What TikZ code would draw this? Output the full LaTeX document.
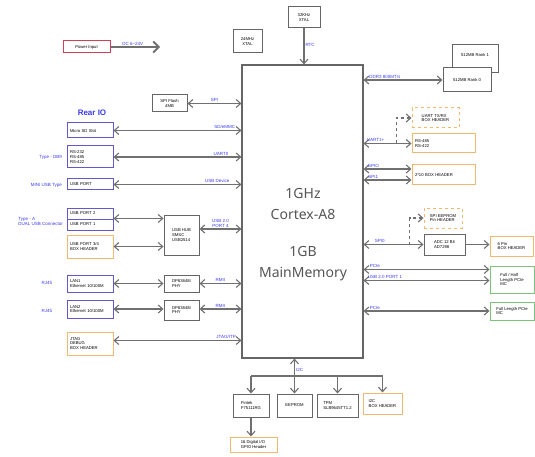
\documentclass[tikz,border=0pt]{standalone}
\usepackage{fontspec}
\setmainfont{Liberation Sans}
\newfontfamily\cpufont{Noto Sans}
\usetikzlibrary{arrows.meta,calc,positioning}

\definecolor{boxgray}{HTML}{666666}
\definecolor{linegray}{HTML}{707070}
\definecolor{rearblue}{HTML}{6458D0}
\definecolor{hdrorange}{HTML}{F0B870}
\definecolor{pcigreen}{HTML}{7CC47C}
\definecolor{pwrred}{HTML}{D0405A}
\definecolor{lblblue}{HTML}{3A3AF0}
\definecolor{cputext}{HTML}{555555}

\tikzset{
  tiny/.style={font=\fontsize{4.2}{4.8}\selectfont},
  sz/.style 2 args={minimum width=#1pt, minimum height=#2pt},
  blk/.style={draw=boxgray, line width=1pt, fill=white, tiny, align=center, inner sep=1pt},
  rio/.style={blk, draw=rearblue, align=left, text width=40pt, inner xsep=3pt},
  hdr/.style={blk, draw=hdrorange, align=left},
  lhdr/.style={hdr, text width=40pt, inner xsep=3pt},
  rhdr/.style={hdr, inner xsep=3pt},
  pci/.style={blk, draw=pcigreen, align=left},
  cpubox/.style={draw=boxgray, line width=1.1pt},
  cputxt/.style={text=cputext, font=\cpufont\fontsize{14}{21}\selectfont, align=center},
  lbl/.style={text=lblblue, font=\fontsize{4.5}{5}\selectfont, align=center, inner sep=1pt},
  tip/.tip={Straight Barb[length=4.5pt,width=8pt]},
  dbl/.style={draw=linegray, line width=1.1pt, tip-tip},
  one/.style={draw=linegray, line width=1.1pt, -tip},
  bus/.style={draw=linegray, line width=1.1pt}
}

\begin{document}
\begin{tikzpicture}[x=1pt, y=-1pt]
\useasboundingbox (0,0) rectangle (535,457);

  % processor
  \node[cpubox, minimum width=121pt, minimum height=293pt] (cpu) at (302.5,211.5) {};
  \node[cputxt] (cpulbl) at (303,234.5) {1GHz\\Cortex-A8\\[16pt]1GB\\MainMemory};

  % top row
  \node[blk, draw=pwrred, sz={47}{12}] (pwr) at (86.5,47) {Power Input};
  \coordinate (pwrend) at (160,47);
  \node[blk, sz={29}{23}] (xtalA) at (247.5,41.5) {24MHz\\XTAL};
  \node[blk, sz={32}{21}] (xtalB) at (304,17.5) {32KHz\\XTAL};
  \node[blk, sz={46}{28}] (rankA) at (475,59) {\raisebox{8pt}{512MB Rank 1}};
  \node[blk, sz={48}{24}] (rankB) at (467,80) {512MB Rank 0};

  % rear IO
  \node[text=lblblue, font=\bfseries\fontsize{8}{9}\selectfont] (rear) at (92,113) {Rear IO};
  \node[blk, sz={35}{17}] (flash) at (169.5,103.5) {SPI Flash\\4MB};
  \node[rio, minimum height=15pt] (sd) at (90,130.5) {Micro SD Slot};
  \node[rio, minimum height=22pt] (rs) at (90,157) {RS-232\\RS-485\\RS-422};
  \node[rio, minimum height=11pt] (usb) at (90,184.5) {USB PORT};
  \node[rio, minimum height=11pt] (usbB) at (90,213.5) {USB PORT 2};
  \node[rio, minimum height=11pt] (usbA) at (90,224.5) {USB PORT 1};
  \node[lhdr, minimum height=23pt] (usbC) at (90,246.5) {USB PORT 3/4\\BOX HEADER};
  \node[blk, sz={35}{40}, align=left] (hub) at (181.5,235) {USB HUB\\SMSC\\USB2514};
  \node[rio, minimum height=17pt] (lanA) at (90,283.5) {LAN1\\Ethernet 10/100M};
  \node[blk, sz={35}{17}, align=left] (phyA) at (181.5,283.5) {DP83848I\\PHY};
  \node[rio, minimum height=18pt] (lanB) at (90,309) {LAN2\\Ethernet 10/100M};
  \node[blk, sz={35}{20}, align=left] (phyB) at (181.5,310) {DP83848I\\PHY};
  \node[lhdr, minimum height=23pt] (jtag) at (90,343.5) {JTAG\\DEBUG\\BOX HEADER};

  \node[lbl, anchor=east] (tDB) at (63,157) {Type - DB9};
  \node[lbl, anchor=east] (tMini) at (63,185) {MINI USB Type};
  \node[lbl, anchor=east, align=left] (tDual) at (64,221) {Type - A\\DUAL USB Connector};
  \node[lbl] (tRJA) at (47,283) {RJ45};
  \node[lbl] (tRJB) at (47,311) {RJ45};

  % right side
  \node[hdr, dashed, sz={47}{20}] (uartH) at (435.5,118) {UART TX/RX\\BOX HEADER};
  \node[rhdr, text width=57pt, minimum height=19pt] (rsB) at (443.5,143.5) {RS-485\\RS-422};
  \node[rhdr, text width=57pt, minimum height=20pt] (pinA) at (443.5,175) {2*10 BOX HEADER};
  \node[hdr, dashed, sz={38}{20}] (eep) at (443,218) {SPI EEPROM\\Pin HEADER};
  \node[blk, sz={41}{21}, align=left] (adc) at (444.5,244.5) {ADC 12 Bit\\AD7298};
  \node[hdr, sz={43}{20}] (pinB) at (511.5,246) {6 Pin\\BOX HEADER};
  \node[pci, sz={44}{27}] (pciA) at (512,279.5) {Full / Half\\Length PCIe\\MC};
  \node[pci, sz={44}{18}] (pciB) at (512,311) {Full Length PCIe\\MC};

  % bottom row
  \node[blk, sz={36}{23}, align=left] (fin) at (251,405.5) {Fintek\\F75111RG};
  \node[blk, sz={35}{23}] (eeprom) at (294.5,405.5) {EEPROM};
  \node[blk, sz={41}{23}, align=left] (tpm) at (337.5,405.5) {TPM\\SLB9645TT1.2};
  \node[hdr, sz={39}{21}] (i2cH) at (382.5,403.5) {I2C\\BOX HEADER};
  \node[hdr, sz={47}{15}] (gpioH) at (253.5,444.5) {16 Digital I/O\\GPIO Header};

  % connectors, top
  \draw[draw=linegray, line width=1.8pt, -{Straight Barb[length=5.5pt,width=11pt]}] (pwr.east) -- node[lbl, above, pos=0.45] {DC 6\textasciitilde24V} (pwrend);
  \draw[one] (xtalB.south) -- node[lbl, right, pos=0.45] {RTC} (xtalB.south |- cpu.north);
  \draw[dbl] (rankB.west -| cpu.east) -- node[lbl, above, pos=0.27] {DDR3 800MT/s} (rankB.west);

  % connectors, left
  \draw[dbl] (flash.east) -- node[lbl, above, pos=0.5] {SPI} (flash.east -| cpu.west);
  \draw[dbl] (sd.east) -- node[lbl, above, pos=0.87] {SD/eMMC} (sd.east -| cpu.west);
  \draw[dbl] (rs.east) -- node[lbl, above, pos=0.84] {UART0} (rs.east -| cpu.west);
  \draw[dbl] (usb.east) -- node[lbl, above, pos=0.81] {USB Device} (usb.east -| cpu.west);
  \draw[dbl] (usbA.north east) -- (usbA.north east -| hub.west);
  \draw[dbl] (usbC.east) -- (usbC.east -| hub.west);
  \draw[dbl] ([yshift=6pt]hub.east) -- node[lbl, above, pos=0.5] {USB 2.0\\PORT 4} ([yshift=6pt]hub.east -| cpu.west);
  \draw[dbl] (lanA.east) -- (phyA.west);
  \draw[dbl] (phyA.east) -- node[lbl, above, pos=0.5] {RMII} (phyA.east -| cpu.west);
  \draw[dbl] (lanB.east) -- (lanB.east -| phyB.west);
  \draw[dbl] (lanB.east -| phyB.east) -- node[lbl, above, pos=0.5] {RMII} (lanB.east -| cpu.west);
  \draw[dbl] ([yshift=3pt]jtag.east) -- node[lbl, above, pos=0.88] {JTAG/ITP} ([yshift=3pt]jtag.east -| cpu.west);

  % connectors, right
  \coordinate (gpio) at ([yshift=6pt]pinA.west);
  \coordinate (spiA) at ([yshift=-5pt]pinA.west);
  \coordinate (pcieA) at ([yshift=10pt]pciA.west);
  \coordinate (usbP) at ([yshift=-1pt]pciA.west);
  \draw[dbl] (rsB.west -| cpu.east) -- node[lbl, above, pos=0.25] {UART1+} (rsB.west);
  \draw[one, dashed] ($(rsB.west -| cpu.east)+(33,0)$) |- (uartH.west);
  \draw[dbl] (gpio -| cpu.east) -- node[lbl, above, pos=0.2] {GPIO} (gpio);
  \draw[dbl] (spiA -| cpu.east) -- node[lbl, above, pos=0.2] {SPI1} (spiA);
  \draw[dbl] (adc.west -| cpu.east) -- node[lbl, above, pos=0.27] {SPI0} (adc.west);
  \draw[one, dashed] ($(adc.west -| cpu.east)+(46,0)$) |- (eep.west);
  \draw[one] (adc.east) -- (adc.east -| pinB.west);
  \draw[dbl] (pcieA -| cpu.east) -- node[lbl, above, pos=0.09] {PCIe} (pcieA);
  \draw[dbl] (usbP -| cpu.east) -- node[lbl, above, pos=0.17] {USB 2.0 PORT 1} (usbP);
  \draw[dbl] (pciB.west -| cpu.east) -- node[lbl, above, pos=0.09] {PCIe} (pciB.west);

  % I2C bus
  \coordinate (i2c) at (0,376);
  \draw[bus] (fin.north |- i2c) -- (i2cH.north |- i2c);
  \foreach \n in {fin,tpm,i2cH}
    \draw[one] (\n.north |- i2c) -- (\n.north);
  \draw[dbl] (eeprom.north |- cpu.south) -- node[lbl, right, pos=0.33] {I2C} (eeprom.north);
  \draw[one] (fin.south) -- (fin.south |- gpioH.north);

\end{tikzpicture}
\end{document}
